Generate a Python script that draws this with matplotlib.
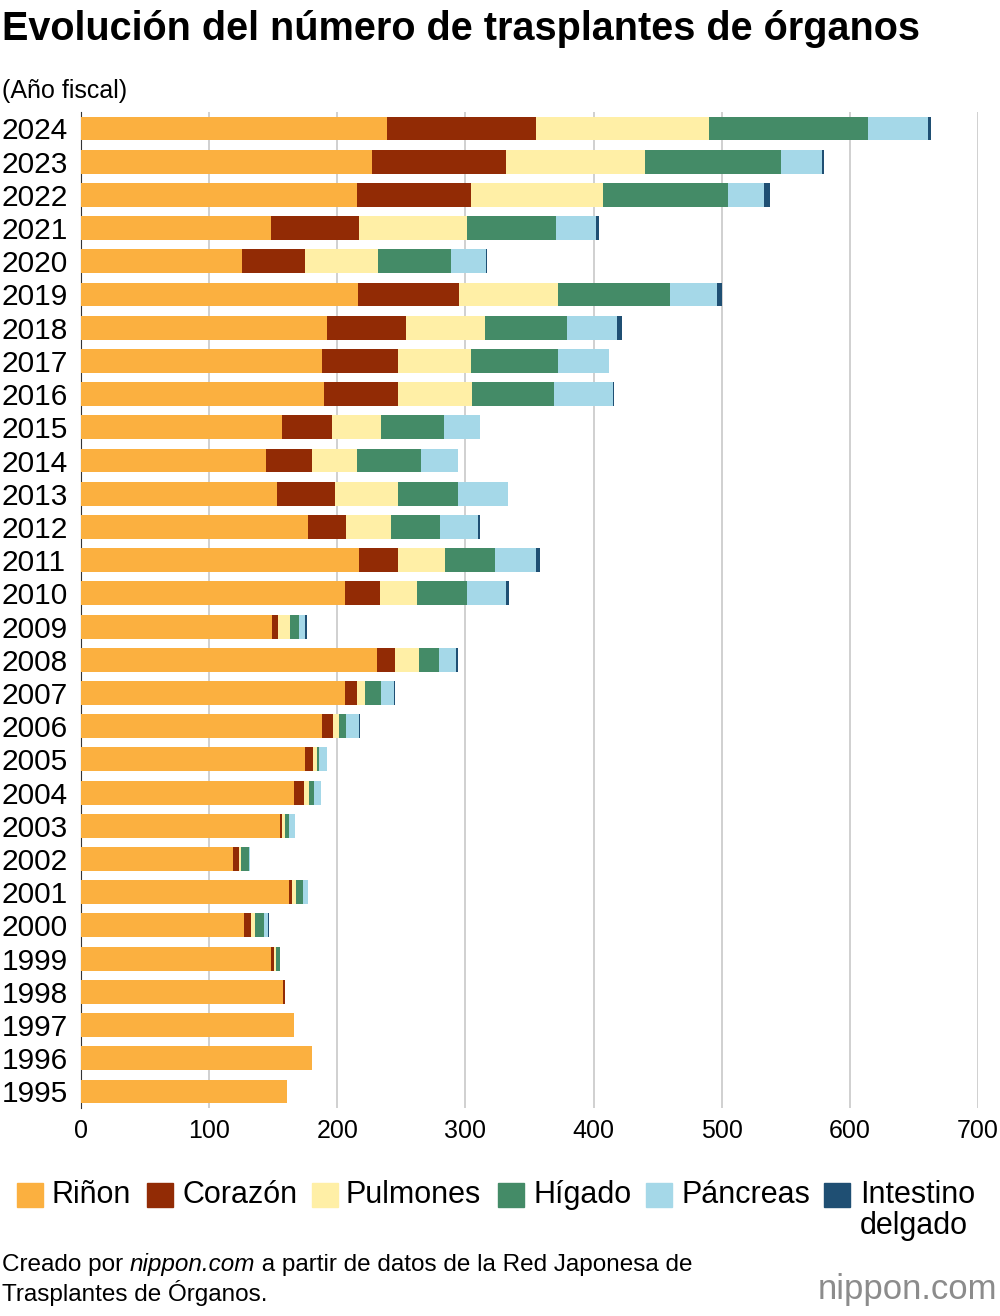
import matplotlib
matplotlib.use("Agg")
import matplotlib.pyplot as plt
import matplotlib.patches as mpatches
import numpy as np

plt.rcParams['font.family'] = ['Liberation Sans', 'DejaVu Sans']

years = list(range(2024, 1994, -1))
rinon     = [239,227,215,148,126,216,192,188,190,157,144,153,177,217,206,149,231,206,188,175,166,155,119,162,127,148,158,166,180,161]
corazon   = [116,105, 89, 69, 49, 79, 62, 59, 57, 39, 36, 45, 30, 30, 27,  5, 14,  9,  9,  6,  8,  2,  4,  3,  6,  3,  1,  0,  0,  0]
pulmones  = [135,108,103, 84, 57, 77, 61, 57, 58, 38, 35, 49, 35, 37, 29,  9, 19,  7,  4,  3,  4,  2,  2,  3,  3,  1,  0,  0,  0,  0]
higado    = [124,106, 98, 70, 57, 88, 64, 68, 64, 49, 50, 47, 38, 39, 39,  7, 15, 12,  6,  2,  4,  3,  6,  5,  7,  3,  0,  0,  0,  0]
pancreas  = [ 47, 32, 28, 31, 27, 36, 39, 40, 46, 28, 29, 39, 30, 32, 31,  5, 14, 10, 10,  6,  5,  5,  1,  4,  3,  0,  0,  0,  0,  0]
intestino = [  2,  2,  5,  2,  1,  4,  4,  0,  1,  0,  0,  0,  1,  3,  2,  1,  1,  1,  1,  0,  0,  0,  0,  0,  1,  0,  0,  0,  0,  0]

series = [("Riñon", rinon, "#FBB040"), ("Corazón", corazon, "#922B05"),
          ("Pulmones", pulmones, "#FFEFA6"), ("Hígado", higado, "#448B67"),
          ("Páncreas", pancreas, "#A5D8E8"), ("Intestino\ndelgado", intestino, "#1F4F73")]

W, H = 1000, 1316
fig = plt.figure(figsize=(10, 13.16), dpi=100)
ax = fig.add_axes([0.081, 0.158, 0.897, 0.757])
y = np.arange(len(years))
left = np.zeros(len(years))
for name, vals, c in series:
    ax.barh(y, vals, left=left, color=c, height=0.72, zorder=3)
    left += np.array(vals)
ax.set_ylim(len(years) - 0.5, -0.5)
ax.set_xlim(0, 700)
ax.set_xticks(range(0, 701, 100))
ax.set_yticks(y)
ax.set_yticklabels([str(v) for v in years], fontsize=21.5, ha='left')
ax.tick_params(axis='x', labelsize=18, length=0, pad=8)
ax.tick_params(axis='y', length=0, pad=57)
ax.grid(axis='x', color='#c8c8c8', lw=1.2, zorder=0)
for s in ['top', 'right', 'bottom']:
    ax.spines[s].set_visible(False)
ax.spines['left'].set_color('#333333')

fig.text(0.002, 0.978, "Evolución del número de trasplantes de órganos", fontsize=28.5, fontweight='bold', va='center')
fig.text(0.002, 0.931, "(Año fiscal)", fontsize=18, va='center')

# legend (manual)
sq_x = [17, 147, 312, 498, 646, 824]
tx_x = [52, 182, 346, 533, 681, 860]
for (name, vals, c), sx, tx in zip(series, sq_x, tx_x):
    fig.patches.append(mpatches.Rectangle((sx / W, 1 - 1207 / H), 26 / W, 24 / H,
                                          transform=fig.transFigure, color=c, figure=fig))
    if '\n' in name:
        fig.text(tx / W, 1 - 1180 / H, name, fontsize=22, va='top', linespacing=1.05)
    else:
        fig.text(tx / W, 1 - 1195 / H, name, fontsize=22, va='center')

# footer
r = fig.canvas.get_renderer()
fs = 17.5
t1 = fig.text(0.002, 1 - 1265 / H, "Creado por ", fontsize=fs, va='center')
bb = t1.get_window_extent(r)
t2 = fig.text(bb.x1 / W, 1 - 1265 / H, "nippon.com", fontsize=fs, style='italic', va='center')
bb2 = t2.get_window_extent(r)
fig.text(bb2.x1 / W, 1 - 1265 / H, " a partir de datos de la Red Japonesa de", fontsize=fs, va='center')
fig.text(0.002, 1 - 1293 / H, "Trasplantes de Órganos.", fontsize=fs, va='center')
fig.text(0.997, 1 - 1290 / H, "nippon.com", fontsize=25, color='#8c8c8c', ha='right', va='center')

fig.savefig("out.png", dpi=100)
